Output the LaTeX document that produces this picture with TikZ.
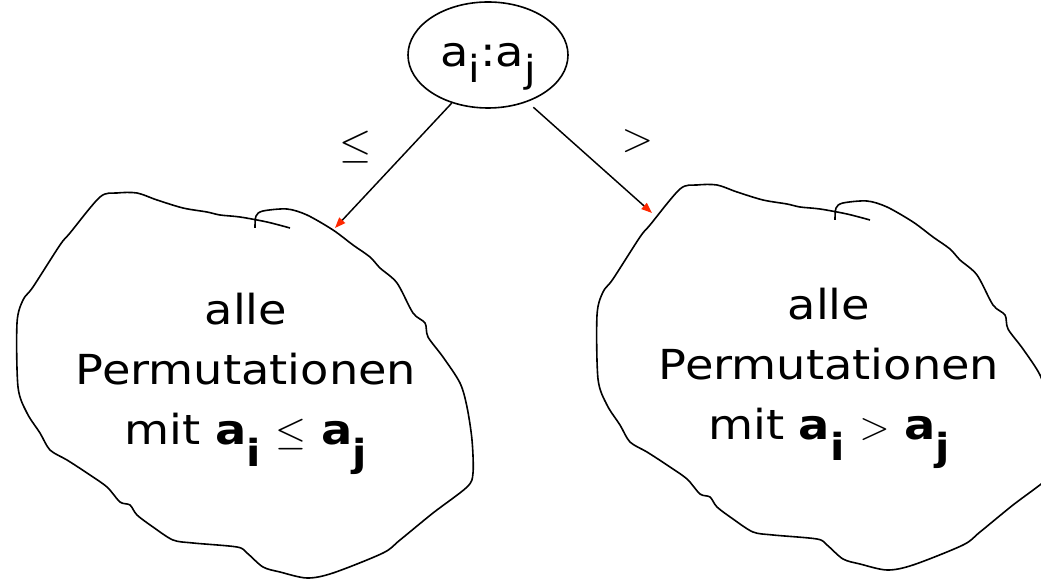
\documentclass[tikz,border=0pt]{standalone}
\usepackage{fontspec}
\setmainfont{DejaVu Sans}[FakeStretch=1.12]
\usetikzlibrary{positioning,arrows.meta,shapes.geometric}
\definecolor{tipred}{RGB}{255,40,0}
% subscript that sits low, like in the slides
\newcommand\lowsub[2][0.4em]{\raisebox{-#1}[0pt][0pt]{\fontsize{28}{28}\selectfont #2}}
% thin relation sign between the two keys
\newcommand\rel[2][1.2]{\scalebox{#1}{$#2$}}
% hand drawn outline of a set of permutations
\newcommand\blobpath{plot[smooth,tension=0.5] coordinates {
  (255,228) (256,216) (263,211) (287,209) (307,215) (333,230) (353,245)
  (370,257) (380,268) (397,283) (413,313) (425,323) (428,337) (443,357)
  (460,383) (467,407) (472,440) (473,473) (467,487) (433,513) (400,540)
  (383,553) (333,573) (307,578) (280,572) (263,567) (247,553) (237,547)
  (193,543) (173,540) (153,527) (137,515) (130,505) (120,502) (107,487)
  (87,473) (67,460) (50,450) (40,433) (27,413) (18,387) (17,323) (23,300)
  (33,287) (60,245) (70,233) (100,197) (117,193) (137,193) (157,200)
  (183,208) (207,212) (220,215) (240,217) (267,222) (290,228)}}

\begin{document}
\begin{tikzpicture}[x=0.75pt,y=-0.75pt,
  font=\fontsize{31}{45}\selectfont,
  cmp/.style={draw,ellipse,line width=1.2pt,inner sep=0pt,minimum width=120pt,minimum height=79.5pt},
  blob/.style={draw,line width=1.2pt,line join=round},
  set/.style={align=center,inner sep=0pt},
  ar/.style={-{Triangle[length=8pt,width=6pt,color=tipred]},line width=1.1pt}]
\clip (0,0) rectangle (1041,580);
\node[cmp] (root) at (488,55) {a\lowsub{i}:a\lowsub{j}};
\draw[blob] \blobpath;
\draw[blob,shift={(580,-8)}] \blobpath;
\node[set] (lset) at (246,372) {alle\\Permutationen\\mit \textbf{a\lowsub[0.52em]{i}} \rel{\leq} \textbf{a\lowsub[0.52em]{j}}};
\node[set] (rset) at (829,364) {alle\\Permutationen\\mit \textbf{a\lowsub[0.52em]{i}} \rel{>} \textbf{a\lowsub[0.52em]{j}}};
\coordinate (lin) at (335,228);
\coordinate (rin) at (652,213);
\draw[ar] (root.233) -- (lin) node[pos=.35,left=9mm] {\rel[1.25]{\leq}};
\draw[ar,shorten <=6pt] (root.310) -- (rin) node[pos=.35,right=12mm] {\rel[1.25]{>}};
\end{tikzpicture}
\end{document}
